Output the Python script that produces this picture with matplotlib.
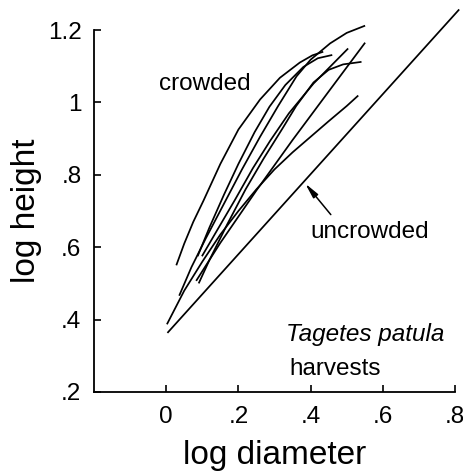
import matplotlib
matplotlib.use("Agg")
import matplotlib.pyplot as plt

plt.rcParams['font.family'] = ['Liberation Sans', 'DejaVu Sans']

# ---- data (log diameter, log height) ----
c1_x = [0.028, 0.05, 0.075, 0.103, 0.15, 0.20, 0.26, 0.315, 0.37, 0.405, 0.435]
c1_y = [0.55, 0.61, 0.67, 0.728, 0.83, 0.925, 1.008, 1.068, 1.11, 1.13, 1.14]

c2_x = [0.087, 0.12, 0.16, 0.20, 0.245, 0.286, 0.33, 0.38, 0.42, 0.46]
c2_y = [0.575, 0.655, 0.745, 0.83, 0.918, 0.988, 1.048, 1.098, 1.122, 1.131]

c3_x = [0.036, 0.07, 0.11, 0.16, 0.21, 0.26, 0.31, 0.361, 0.40, 0.454, 0.50, 0.551]
c3_y = [0.466, 0.545, 0.625, 0.72, 0.815, 0.905, 0.99, 1.072, 1.118, 1.163, 1.192, 1.212]

c4_x = [0.099, 0.14, 0.19, 0.24, 0.288, 0.34, 0.408, 0.504]
c4_y = [0.575, 0.645, 0.73, 0.818, 0.894, 0.97, 1.052, 1.149]

c5_x = [0.083, 0.15, 0.25, 0.35, 0.45, 0.551]
c5_y = [0.507, 0.612, 0.757, 0.896, 1.03, 1.165]

c6_x = [0.09, 0.12, 0.17, 0.22, 0.27, 0.324, 0.36, 0.408, 0.45, 0.49, 0.541]
c6_y = [0.50, 0.565, 0.665, 0.76, 0.845, 0.931, 0.99, 1.055, 1.09, 1.105, 1.112]

c7_x = [0.002, 0.05, 0.10, 0.15, 0.20, 0.25, 0.30, 0.35, 0.40, 0.45, 0.50, 0.532]
c7_y = [0.387, 0.48, 0.56, 0.635, 0.70, 0.76, 0.815, 0.862, 0.905, 0.948, 0.99, 1.019]

crowded_curves = [(c1_x, c1_y), (c2_x, c2_y), (c3_x, c3_y), (c4_x, c4_y),
                  (c5_x, c5_y), (c6_x, c6_y), (c7_x, c7_y)]

uncrowded_x = [0.005, 0.81]
uncrowded_y = [0.365, 1.255]

x_ticks = [0, 0.2, 0.4, 0.6, 0.8]
x_tick_labels = ['0', '.2', '.4', '.6', '.8']
y_ticks = [0.2, 0.4, 0.6, 0.8, 1.0, 1.2]
y_tick_labels = ['.2', '.4', '.6', '.8', '1', '1.2']

# ---- figure ----
fig = plt.figure(figsize=(4.64, 4.71), dpi=100)
ax = fig.add_axes([94 / 464, 1 - 392 / 471, 361 / 464, 362 / 471])

for cx, cy in crowded_curves:
    ax.plot(cx, cy, color='black', lw=1.25, clip_on=False,
            solid_capstyle='butt', solid_joinstyle='round')
ax.plot(uncrowded_x, uncrowded_y, color='black', lw=1.25, clip_on=False)

ax.set_xlim(-0.2, 0.8)
ax.set_ylim(0.2, 1.2)
ax.spines['top'].set_visible(False)
ax.spines['right'].set_visible(False)
for s in ('left', 'bottom'):
    ax.spines[s].set_linewidth(1.3)

ax.set_xticks(x_ticks)
ax.set_xticklabels(x_tick_labels)
ax.set_yticks(y_ticks)
ax.set_yticklabels(y_tick_labels)
ax.tick_params(direction='in', length=5, width=1.2, labelsize=17.5)
ax.tick_params(axis='x', pad=10)
ax.tick_params(axis='y', pad=9)

ax.set_xlabel('log diameter', fontsize=24, labelpad=9)
ax.set_ylabel('log height', fontsize=24, labelpad=4)

ax.text(-0.021, 1.035, 'crowded', fontsize=17.5, ha='left', va='baseline')
ax.text(0.40, 0.625, 'uncrowded', fontsize=17.5, ha='left', va='baseline')
ax.text(0.332, 0.341, 'Tagetes patula', fontsize=17.5, style='italic',
        ha='left', va='baseline')
ax.text(0.341, 0.246, 'harvests', fontsize=17.5, ha='left', va='baseline')

ax.annotate('', xy=(0.385, 0.776), xytext=(0.456, 0.69),
            arrowprops=dict(arrowstyle='-|>,head_length=0.9,head_width=0.18',
                            color='black', lw=1.1, shrinkA=0, shrinkB=0))

fig.savefig('out.png', dpi=100)
